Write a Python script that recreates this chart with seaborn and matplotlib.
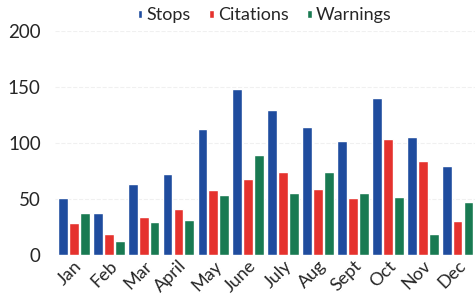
import pandas as pd
import matplotlib.pyplot as plt
import seaborn as sns

months = ['Jan', 'Feb', 'Mar', 'April', 'May', 'June', 'July', 'Aug', 'Sept', 'Oct', 'Nov', 'Dec']
stops = [51, 37, 63, 72, 112, 148, 129, 114, 102, 140, 105, 79]
citations = [28, 19, 34, 41, 58, 68, 74, 59, 51, 103, 84, 30]
warnings = [37, 12, 29, 31, 53, 89, 55, 74, 55, 52, 19, 47]

df = pd.DataFrame({'month': months, 'Stops': stops, 'Citations': citations, 'Warnings': warnings})
long = df.melt(id_vars='month', var_name='kind', value_name='count')

sns.set_style('white')
plt.rcParams['font.family'] = ['Lato', 'DejaVu Sans']

fig, ax = plt.subplots(figsize=(4.75, 3.07), dpi=100)
palette = {'Stops': '#1f4c9e', 'Citations': '#e5322e', 'Warnings': '#197a52'}
sns.barplot(data=long, x='month', y='count', hue='kind', palette=palette,
            width=0.94, gap=0.1, saturation=1, ax=ax)

ax.set_ylim(0, 200)
ax.set_yticks([0, 50, 100, 150, 200])
ax.set_xlabel('')
ax.set_ylabel('')
ax.tick_params(axis='y', labelsize=13.5, length=0, pad=10)
ax.tick_params(axis='x', labelsize=13, length=0, pad=2)
plt.setp(ax.get_xticklabels(), rotation=45, ha='right', rotation_mode='anchor')
ax.grid(axis='y', color='#f0f0f0', linestyle='--', linewidth=0.8)
ax.set_axisbelow(True)
sns.despine(left=True, bottom=True)
ax.set_xlim(-0.55, 11.5)

leg = ax.legend(loc='lower center', bbox_to_anchor=(0.5, 1.0), ncol=3, frameon=False,
                fontsize=13, handlelength=0.25, handleheight=0.25, handletextpad=0.25,
                columnspacing=1.0, borderaxespad=0.0)

plt.subplots_adjust(left=0.115, right=1.0, top=0.9, bottom=0.17)
plt.savefig('out.png', dpi=100)
